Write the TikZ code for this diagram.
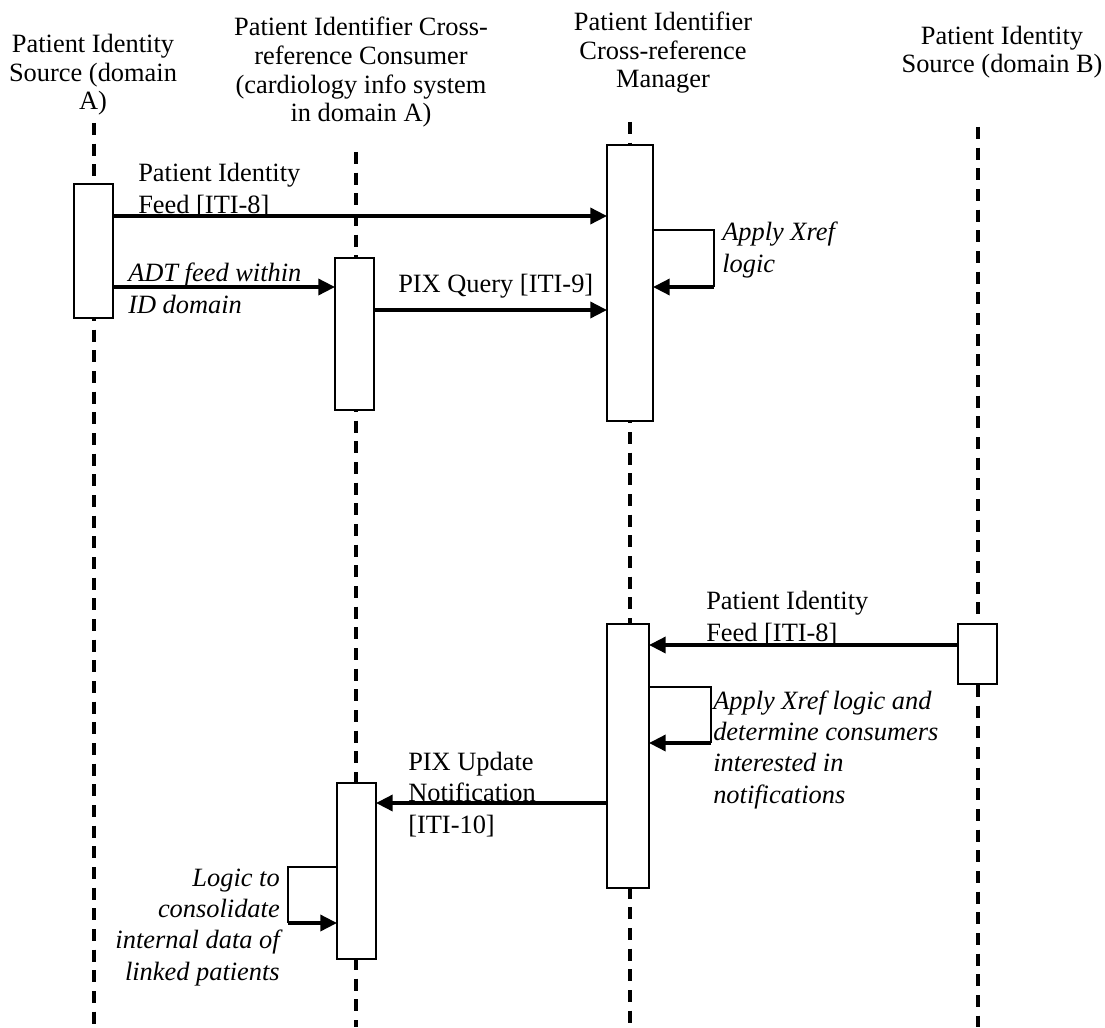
\documentclass[tikz,border=0pt]{standalone}
\usepackage{fontspec}
\setmainfont{Liberation Serif}
\usetikzlibrary{arrows.meta, positioning}

\begin{document}
\begin{tikzpicture}[
    x=0.75pt, y=-0.75pt,
    every node/.style={font=\fontsize{19.8}{23.5}\selectfont, inner sep=0pt},
    head/.style={align=center, font=\fontsize{19.8}{21.5}\selectfont, anchor=base},
    act/.style={draw, line width=1.3pt, fill=white, minimum width=29.25pt, outer sep=0pt},
    life/.style={line width=2.5pt, dash pattern=on 9pt off 6.5pt},
    msg/.style={-{Triangle[length=12.5pt, width=12pt]}, line width=2.6pt},
    self/.style={line width=1.3pt},
    lbl/.style={align=left, anchor=base west},
    note/.style={lbl, font=\fontsize{19.8}{23.5}\selectfont\itshape}
]
\useasboundingbox (0,0) rectangle (1105,1027);

% Actors (anchored at the baseline of their last line)
\node[head] (hdrA) at (93,110) {Patient Identity\\Source (domain\\A)};
\node[head] (hdrC) at (361,122) {Patient Identifier Cross-\\reference Consumer\\(cardiology info system\\in domain A)};
\node[head] (hdrM) at (663,88) {Patient Identifier\\Cross-reference\\Manager};
\node[head] (hdrB) at (1002,73) {Patient Identity\\Source (domain B)};

% Lifelines
\coordinate (topA) at (94,123);  \coordinate (botA) at (94,1027);
\coordinate (topC) at (356,152); \coordinate (botC) at (356,1027);
\coordinate (topM) at (630,122); \coordinate (botM) at (630,1027);
\coordinate (topB) at (978,127); \coordinate (botB) at (978,1027);
\draw[life] (topA) -- (botA);
\draw[life] (topC) -- (botC);
\draw[life] (topM) -- (botM);
\draw[life] (topB) -- (botB);

% Activation boxes
\node[act, minimum height=100.5pt] (actA) at (93.5,251) {};
\node[act, minimum height=114pt] (actC1) at (354.5,334) {};
\node[act, minimum width=34.5pt, minimum height=207pt] (actM1) at (630,283) {};
\node[act, minimum width=31.5pt, minimum height=198pt] (actM2) at (628,756) {};
\node[act, minimum height=45pt] (actB) at (977.5,654) {};
\node[act, minimum height=132pt] (actC2) at (356.5,871) {};

% Query phase
\draw[msg] (actA.east |- 0,216) -- (actM1.west |- 0,216);
\node[lbl] (feedA) at (138,213) {Patient Identity\\Feed [ITI-8]};

\draw[msg] (actA.east |- 0,287) -- (actC1.west |- 0,287);
\node[note] (adt) at (128,313) {ADT feed within\\ID domain};

\draw[msg] (actC1.east |- 0,310) -- (actM1.west |- 0,310);
\node[lbl] (query) at (398,292) {PIX Query [ITI-9]};

\draw[self] (actM1.east |- 0,230) -- ++(61,0) -- ++(0,57) coordinate (xrefA);
\draw[msg] (xrefA) -- (actM1.east |- xrefA);
\node[note] (xref) at (722,272) {Apply Xref\\logic};

% Update phase
\draw[msg] (actB.west |- 0,645) -- (actM2.east |- 0,645);
\node[lbl] (feedB) at (706,641) {Patient Identity\\Feed [ITI-8]};

\draw[self] (actM2.east |- 0,687) -- ++(62,0) -- ++(0,56) coordinate (xrefB);
\draw[msg] (xrefB) -- (actM2.east |- xrefB);
\node[note] (xrefn) at (713,803) {Apply Xref logic and\\determine consumers\\interested in\\notifications};

\draw[msg] (actM2.west |- 0,803) -- (actC2.east |- 0,803);
\node[lbl] (update) at (408,833) {PIX Update\\Notification\\{[ITI-10]}};

\draw[self] (actC2.west |- 0,867) -- ++(-49,0) -- ++(0,56) coordinate (mergeA);
\draw[msg] (mergeA) -- (actC2.west |- mergeA);
\node[note, align=right, anchor=base east] (merge) at (280,980) {Logic to\\consolidate\\internal data of\\linked patients};

\end{tikzpicture}
\end{document}
